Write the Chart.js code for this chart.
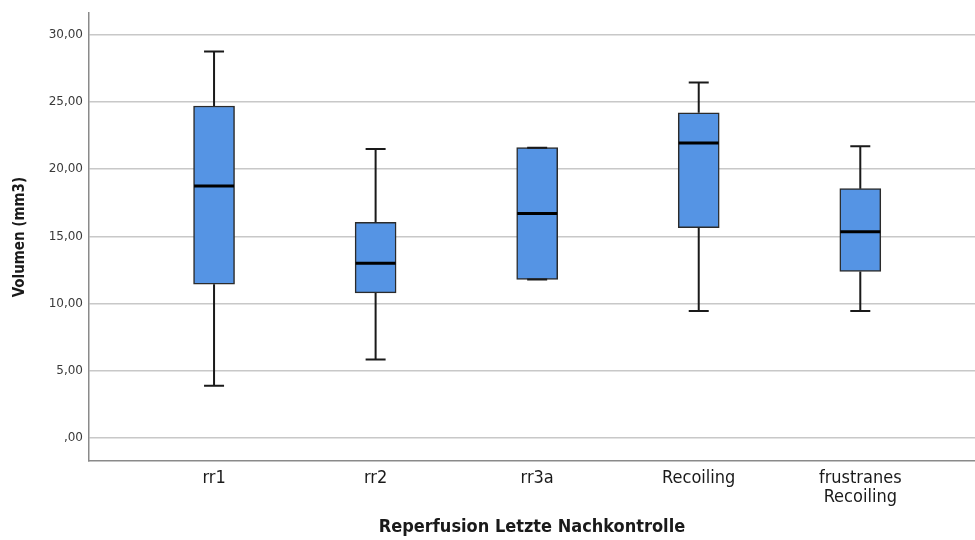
<!DOCTYPE html>
<html>
<head>
<meta charset="utf-8">
<script src="https://cdn.jsdelivr.net/npm/chart.js@4"></script>
<style>
  html, body { margin: 0; padding: 0; background: #fff; }
  #wrap { width: 975px; height: 540px; }
</style>
</head>
<body>
<div id="wrap"><canvas id="myChart" width="975" height="540"></canvas></div>
<script>
const categories = ['rr1', 'rr2', 'rr3a', 'Recoiling', ['frustranes', 'Recoiling']];
const whiskerLow = [3.9, 5.85, 11.8, 9.45, 9.45];
const q1 = [11.45, 10.8, 11.8, 15.65, 12.4];
const median = [18.75, 13.0, 16.7, 21.95, 15.35];
const q3 = [24.7, 16.05, 21.6, 24.2, 18.55];
const whiskerHigh = [28.75, 21.5, 21.6, 26.45, 21.7];
const yTicks = [0, 5, 10, 15, 20, 25, 30];

function formatDe(v) {
    var s = v.toFixed(2).replace('.', ',');
    return v === 0 ? ',00' : s;
}

const whiskerPlugin = {
    id: 'whiskers',
    afterDatasetsDraw: function(chart) {
        const ctx = chart.ctx;
        const x = chart.scales.x;
        const y = chart.scales.y;
        ctx.save();
        ctx.strokeStyle = '#1a1a1a';
        categories.forEach(function(c, i) {
            const cx = x.getPixelForValue(i);
            const cap = 10;
            const half = 20;
            ctx.lineWidth = 2;
            ctx.beginPath();
            // upper whisker
            ctx.moveTo(cx, y.getPixelForValue(q3[i]));
            ctx.lineTo(cx, y.getPixelForValue(whiskerHigh[i]));
            ctx.moveTo(cx - cap, y.getPixelForValue(whiskerHigh[i]));
            ctx.lineTo(cx + cap, y.getPixelForValue(whiskerHigh[i]));
            // lower whisker
            ctx.moveTo(cx, y.getPixelForValue(q1[i]));
            ctx.lineTo(cx, y.getPixelForValue(whiskerLow[i]));
            ctx.moveTo(cx - cap, y.getPixelForValue(whiskerLow[i]));
            ctx.lineTo(cx + cap, y.getPixelForValue(whiskerLow[i]));
            ctx.stroke();
            // median
            ctx.lineWidth = 3;
            ctx.strokeStyle = '#000';
            ctx.beginPath();
            ctx.moveTo(cx - half, y.getPixelForValue(median[i]));
            ctx.lineTo(cx + half, y.getPixelForValue(median[i]));
            ctx.stroke();
            ctx.strokeStyle = '#1a1a1a';
        });
        ctx.restore();
    }
};

const data = {
    datasets: [
        {
            label: 'Volumen',
            data: categories.map(function(c, i) { return { x: i, y: [q1[i], q3[i]] }; }),
            backgroundColor: '#5594e4',
            borderColor: '#2b2b2b',
            borderWidth: 1.5,
            borderSkipped: false,
            barThickness: 41
        }
    ]
};

const config = {
    type: 'bar',
    data: data,
    options: {
        responsive: false,
        animation: false,
        layout: { padding: { top: 9, right: 0, left: 0, bottom: 0 } },
        plugins: {
            legend: { display: false },
            tooltip: { enabled: false }
        },
        scales: {
            x: {
                type: 'linear',
                offset: false,
                min: -0.774,
                max: 4.71,
                afterBuildTicks: function(s) {
                    s.ticks = categories.map(function(c, i) { return { value: i }; });
                },
                afterFit: function(s) { s.height = 79; },
                ticks: {
                    autoSkip: false,
                    maxRotation: 0,
                    padding: 8,
                    color: '#1a1a1a',
                    font: { family: 'DejaVu Sans Condensed', size: 18, lineHeight: 1.05 },
                    callback: function(v) { return categories[v]; }
                },
                grid: { display: false, drawTicks: false, offset: false },
                border: { color: '#8a8a8a', width: 1.5 },
                title: {
                    display: true,
                    text: 'Reperfusion Letzte Nachkontrolle',
                    color: '#1a1a1a',
                    font: { family: 'DejaVu Sans Condensed', size: 18, weight: 'bold' },
                    padding: { top: 0, bottom: 2 }
                }
            },
            y: {
                min: -1.7,
                max: 31.6,
                afterBuildTicks: function(s) {
                    s.ticks = yTicks.map(function(v) { return { value: v }; });
                },
                afterFit: function(s) { s.width = 89; },
                ticks: {
                    padding: 6,
                    color: '#3a3a3a',
                    font: { family: 'DejaVu Sans', size: 12 },
                    callback: function(v) { return formatDe(v); }
                },
                grid: { color: '#c8c8c8', lineWidth: 1.5, drawTicks: false },
                border: { color: '#8a8a8a', width: 1.5 },
                title: {
                    display: true,
                    text: 'Volumen (mm3)',
                    color: '#1a1a1a',
                    font: { family: 'DejaVu Sans Condensed', size: 15, weight: 'bold' },
                    padding: { top: 11, bottom: 0 }
                }
            }
        }
    },
    plugins: [whiskerPlugin]
};

const myChart = new Chart(document.getElementById('myChart'), config);
</script>
</body>
</html>
